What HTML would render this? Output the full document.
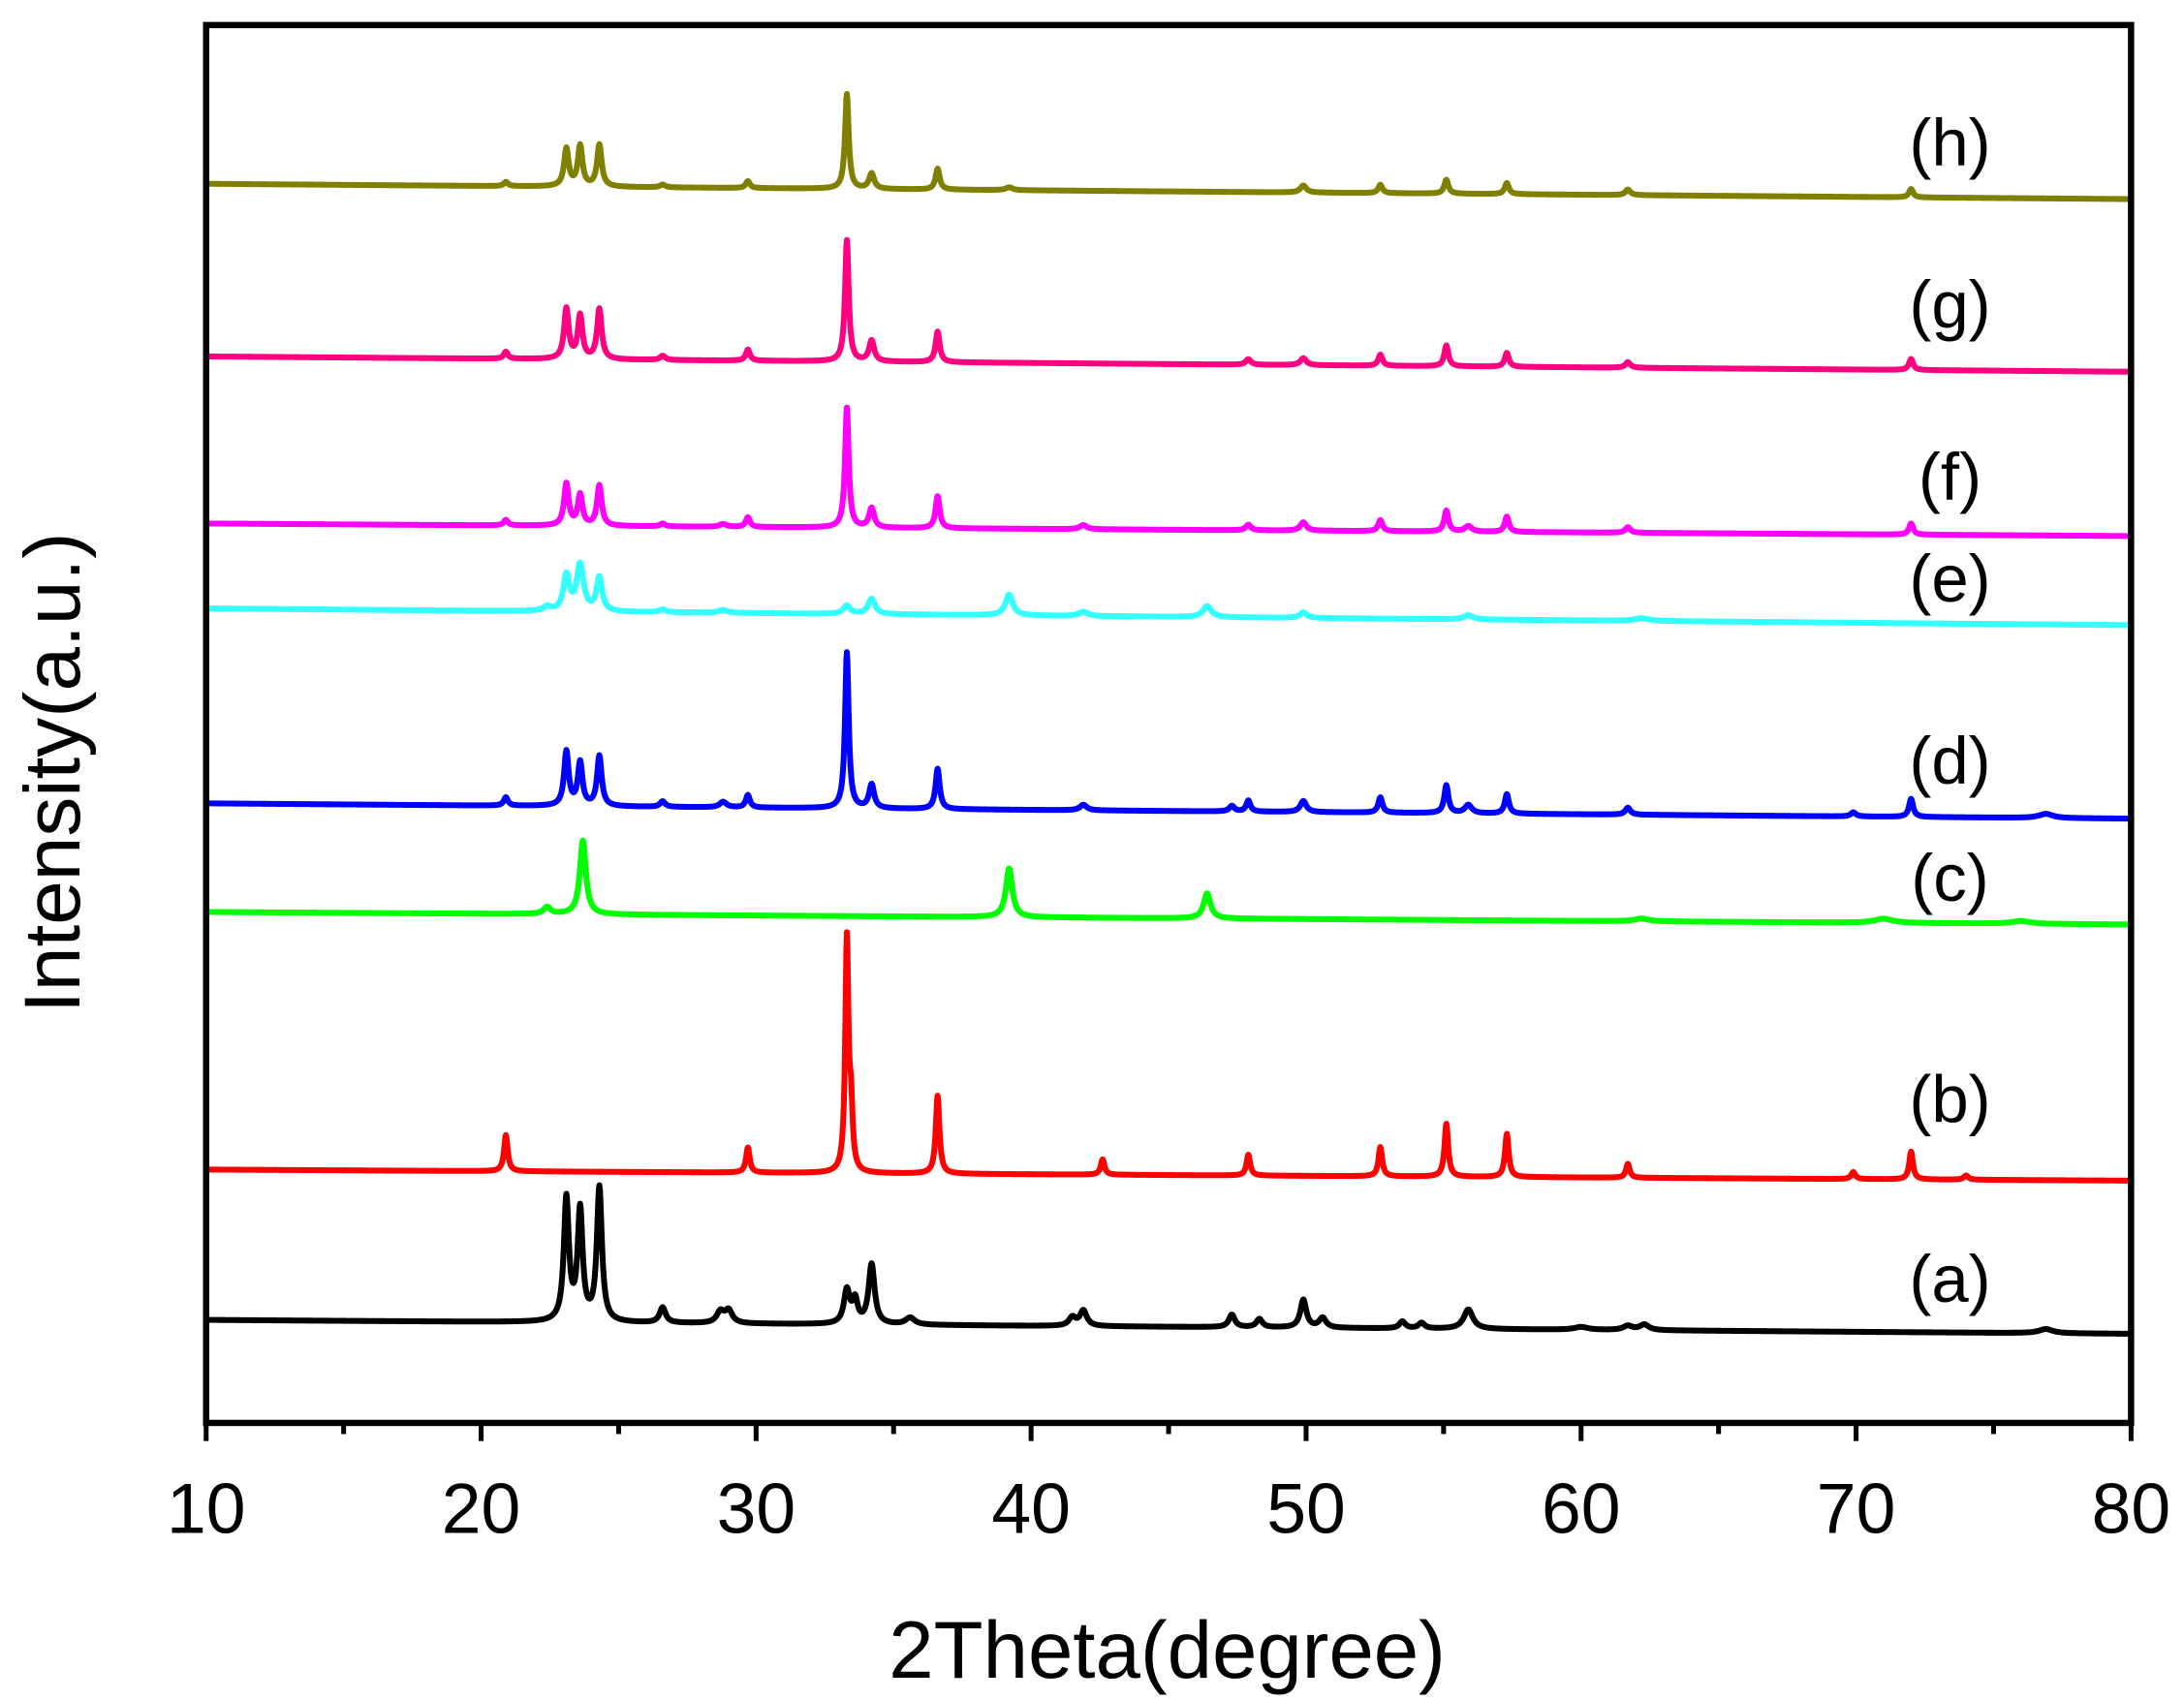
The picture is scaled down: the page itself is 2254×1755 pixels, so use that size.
<!DOCTYPE html>
<html><head><meta charset="utf-8"><style>
html,body{margin:0;padding:0;background:#fff;}
svg{display:block;}
text{font-family:"Liberation Sans",Arial,sans-serif;fill:#000;}
</style></head><body>
<svg id="chart" width="2254" height="1755" viewBox="0 0 1568 1221" preserveAspectRatio="none" xmlns="http://www.w3.org/2000/svg">
<g id="series"></g>
<rect x="148" y="18" width="1382" height="1004" fill="none" stroke="#000" stroke-width="4.5"/>
<g id="xticks"></g>
<g id="labels"></g>
<text x="838" y="1205" font-size="58" text-anchor="middle">2Theta(degree)</text>
<text transform="translate(57,555) rotate(-90)" font-size="57" text-anchor="middle">Intensity(a.u.)</text>
</svg>
<script>
const xTicks=[10,20,30,40,50,60,70,80];
const seriesNames=['a','b','c','d','e','f','g','h'];
const seriesColors=['#000000','#ff0000','#00ff00','#0000ff','#33ffff','#ff00ff','#ff0080','#808000'];
// baseline intensity at 10 and 80 deg (units above frame bottom)
const baseStart=[74,182,367,445,585,646,766,890];
const baseEnd=[64,174,358,434,573,637,755,879];
// peaks: [2theta, height, width]
const peaksA=[[23.1,88,0.11],[23.6,79,0.11],[24.3,96,0.11],[26.6,11,0.13],[28.7,8,0.16],[29.0,9,0.16],[33.3,24,0.13],[33.6,16,0.11],[34.2,43,0.13],[35.6,5,0.2],[41.5,6,0.15],[41.9,11,0.15],[47.3,9,0.13],[48.3,6,0.13],[49.9,20,0.13],[50.6,7,0.15],[53.5,5,0.13],[54.2,4,0.13],[55.9,14,0.2],[60,2,0.3],[61.7,3,0.2],[62.3,4,0.2],[76.9,3,0.3]];
const peaksB=[[20.9,26,0.08],[29.7,18,0.08],[33.3,166,0.07],[33.45,40,0.07],[36.6,56,0.08],[42.6,11,0.08],[47.9,15,0.08],[52.7,21,0.08],[55.1,38,0.08],[57.3,31,0.08],[61.7,10,0.08],[69.9,5,0.09],[72.0,20,0.08],[74.0,3,0.1]];
const peaksC=[[22.4,5,0.15],[23.7,53,0.13],[39.2,35,0.14],[46.4,18,0.15],[62.2,2,0.3],[71,3,0.4],[76,2,0.4]];
const peaksD=[[20.9,6,0.09],[23.1,39,0.1],[23.6,31,0.1],[24.3,36,0.1],[26.6,4,0.11],[28.8,4,0.15],[29.7,9,0.09],[33.3,112,0.08],[34.2,17,0.11],[36.6,29,0.09],[41.9,4,0.15],[47.3,4,0.11],[47.9,8,0.09],[49.9,8,0.13],[52.7,11,0.09],[55.1,20,0.09],[55.9,6,0.15],[57.3,14,0.09],[61.7,5,0.11],[69.9,3,0.11],[72.0,13,0.09],[76.9,3,0.3]];
const peaksE=[[22.4,3,0.15],[23.1,25,0.13],[23.6,33,0.15],[24.3,24,0.12],[26.6,2,0.15],[28.8,2,0.2],[33.3,6,0.15],[34.2,11,0.15],[39.2,15,0.16],[41.9,3,0.2],[46.4,8,0.18],[49.9,4,0.15],[55.9,3,0.2],[62.2,2,0.3]];
const peaksF=[[20.9,4,0.09],[23.1,30,0.1],[23.6,22,0.1],[24.3,29,0.1],[26.6,2,0.11],[28.8,2,0.15],[29.7,7,0.09],[33.3,86,0.08],[34.2,14,0.11],[36.6,23,0.09],[41.9,3,0.15],[47.9,4,0.11],[49.9,6,0.13],[52.7,8,0.09],[55.1,15,0.09],[55.9,4,0.15],[57.3,11,0.09],[61.7,4,0.11],[72.0,8,0.09]];
const peaksG=[[20.9,5,0.09],[23.1,36,0.1],[23.6,31,0.1],[24.3,36,0.1],[26.6,3,0.11],[29.7,8,0.09],[33.3,87,0.08],[34.2,15,0.11],[36.6,22,0.09],[47.9,4,0.11],[49.9,5,0.13],[52.7,8,0.09],[55.1,15,0.09],[57.3,10,0.09],[61.7,4,0.11],[72.0,8,0.09]];
const peaksH=[[20.9,3,0.09],[23.1,27,0.1],[23.6,29,0.1],[24.3,30,0.1],[26.6,2,0.11],[29.7,5,0.09],[33.3,68,0.08],[34.2,11,0.11],[36.6,15,0.09],[39.2,2,0.15],[49.9,5,0.13],[52.7,6,0.09],[55.1,10,0.09],[57.3,8,0.09],[61.7,4,0.11],[72.0,6,0.09]];
const allPeaks=[peaksA,peaksB,peaksC,peaksD,peaksE,peaksF,peaksG,peaksH];
const labelY=[935,806,647,563,432,359,235,119];

const X0=148,X1=1530,Y0=1022;
function xScale(v){return X0+(v-10)/70*(X1-X0);}
function yScale(v){return Y0-v;}
const NS='http://www.w3.org/2000/svg';
const sg=document.getElementById('series');
allPeaks.forEach((pk,i)=>{
  let d='';
  for(let t=10;t<=80.0001;t+=0.02){
    let v=baseStart[i]+(baseEnd[i]-baseStart[i])*(t-10)/70;
    pk.forEach(p=>{const u=(t-p[0])/p[2];v+=p[1]/(1+u*u);});
    d+=(d?'L':'M')+xScale(t).toFixed(2)+','+yScale(v).toFixed(2);
  }
  const path=document.createElementNS(NS,'path');
  path.setAttribute('d',d);path.setAttribute('fill','none');
  path.setAttribute('stroke',seriesColors[i]);path.setAttribute('stroke-width','4.2');
  path.setAttribute('stroke-linejoin','round');
  
  
  sg.appendChild(path);
  const lb=document.createElementNS(NS,'text');
  lb.setAttribute('x','1400');lb.setAttribute('y',labelY[i]);
  lb.setAttribute('font-size','48');lb.setAttribute('text-anchor','middle');
  lb.textContent='('+seriesNames[i]+')';
  
  
  document.getElementById('labels').appendChild(lb);
});
const xg=document.getElementById('xticks');
for(let t=10;t<=80;t+=5){
  const major=t%10===0;
  const ln=document.createElementNS(NS,'line');
  ln.setAttribute('x1',xScale(t));ln.setAttribute('x2',xScale(t));
  ln.setAttribute('y1',Y0);ln.setAttribute('y2',Y0+(major?13:8));
  ln.setAttribute('stroke','#000');ln.setAttribute('stroke-width','3.5');
  
  
  xg.appendChild(ln);
}
xTicks.forEach(t=>{
  const tx=document.createElementNS(NS,'text');
  tx.setAttribute('x',xScale(t));tx.setAttribute('y','1101');
  tx.setAttribute('font-size','51');tx.setAttribute('text-anchor','middle');
  tx.textContent=t;
  
  
  xg.appendChild(tx);
});
</script>
</body></html>
